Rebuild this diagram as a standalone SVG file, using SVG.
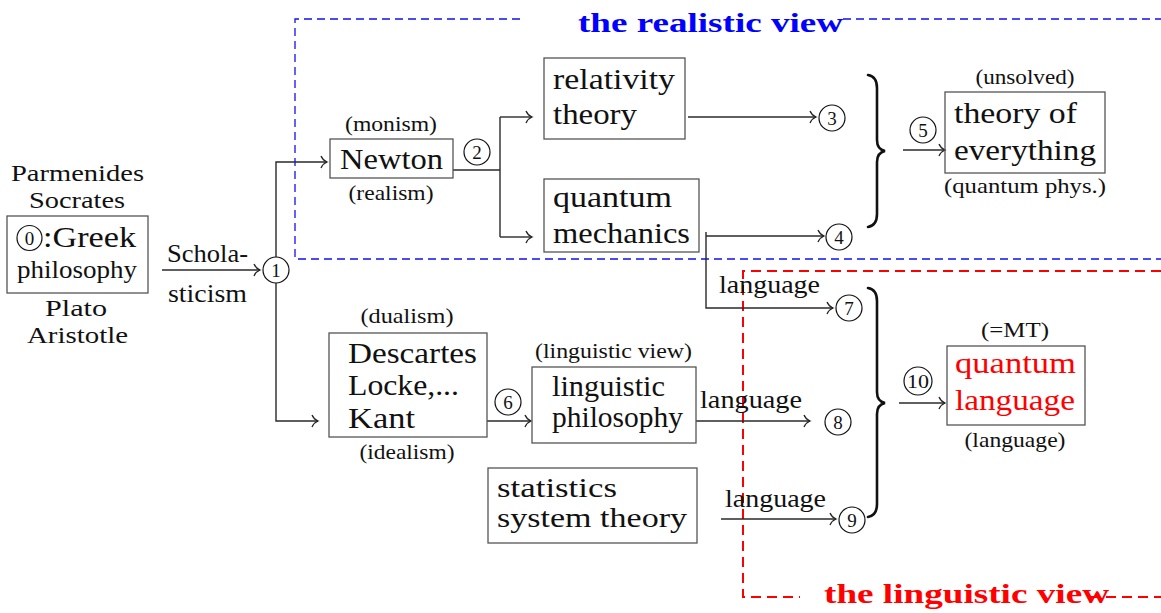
<svg xmlns="http://www.w3.org/2000/svg" width="1161" height="613" viewBox="0 0 1161 613" font-family="Liberation Serif, serif">
<style>
text{font-family:'Liberation Serif',serif;fill:#111}
.m{font-size:30px}
.n{font-size:25px}
.s{font-size:21px}
.c{font-size:19px;text-anchor:middle}
.box{fill:none;stroke:#555;stroke-width:1.3}
.circ{fill:#fff;stroke:#111;stroke-width:1.2}
.ln{fill:none;stroke:#2a2a2a;stroke-width:1.4}
.arr{marker-end:url(#to)}
.blue{fill:none;stroke:#1010ee;stroke-width:1.3;stroke-dasharray:8 5}
.red{fill:none;stroke:#ff0000;stroke-width:2;stroke-dasharray:10 6}
.brace{fill:none;stroke:#111;stroke-width:2.6;stroke-linecap:round}
.title{font-size:28px;font-weight:bold}
</style>
<defs>
<marker id="to" viewBox="-8 -8 10 16" refX="0" refY="0" markerWidth="10" markerHeight="16" markerUnits="userSpaceOnUse" orient="auto" overflow="visible">
<path d="M-6,-6 C-4.5,-2.5 -2,-0.8 0,0 C-2,0.8 -4.5,2.5 -6,6" fill="none" stroke="#222" stroke-width="1.3"/>
</marker>
</defs>
<rect width="1161" height="613" fill="#fff"/>

<g id="realistic-view">
<path class="blue" d="M520,19 H295 V259 H1161"/>
<path class="blue" d="M843,19 H1161"/>
<text class="title" x="578" y="32" textLength="265" lengthAdjust="spacingAndGlyphs" style="fill:#0000ff">the realistic view</text>
</g>

<g id="linguistic-view">
<path class="red" d="M1161,271 H743 V597 H800"/>
<text class="title" x="824" y="603" textLength="285" lengthAdjust="spacingAndGlyphs" style="fill:#ff0000">the linguistic view</text>
<path class="red" d="M1090,597 H1161"/>
</g>

<g id="connectors">
<path class="ln arr" d="M162,270 H260"/>
<path class="ln arr" d="M276,257 V162 H327"/>
<path class="ln arr" d="M276,283 V421 H318"/>
<path class="ln" d="M453,170 H500"/>
<path class="ln" d="M500,117 V237"/>
<path class="ln arr" d="M500,117 H532"/>
<path class="ln arr" d="M500,237 H532"/>
<path class="ln arr" d="M688,117 H816"/>
<path class="ln arr" d="M706,236 H824"/>
<path class="ln arr" d="M706,232 V308 H833"/>
<path class="ln arr" d="M487,421 H531"/>
<path class="ln arr" d="M696,421 H810"/>
<path class="ln arr" d="M721,519 H836"/>
<path class="ln arr" d="M903,150 H945"/>
<path class="ln arr" d="M899,403 H945"/>
<path class="brace" d="M868,75 C874,76 877,80 877,88 L877,140 C877,146 880,150 885,151 C880,152 877,156 877,162 L877,214 C877,222 874,226 868,227"/>
<path class="brace" d="M868,288 C874,289 877,293 877,301 L877,392 C877,398 880,402 885,403 C880,404 877,408 877,414 L877,504 C877,512 874,516 868,517"/>
<text class="n" x="167" y="262" textLength="81" lengthAdjust="spacingAndGlyphs">Schola-</text>
<text class="n" x="168" y="302" textLength="79" lengthAdjust="spacingAndGlyphs">sticism</text>
<text class="n" x="719" y="293" textLength="101" lengthAdjust="spacingAndGlyphs">language</text>
<text class="n" x="700" y="408" textLength="102" lengthAdjust="spacingAndGlyphs">language</text>
<text class="n" x="725" y="507" textLength="101" lengthAdjust="spacingAndGlyphs">language</text>
</g>

<g id="greek">
<text class="n" x="11" y="181" textLength="133" lengthAdjust="spacingAndGlyphs" style="font-size:23px">Parmenides</text>
<text class="n" x="29" y="208" textLength="96" lengthAdjust="spacingAndGlyphs" style="font-size:23px">Socrates</text>
<rect class="box" x="7" y="216" width="141" height="77"/>
<circle class="circ" cx="29.5" cy="238" r="12.5"/>
<text class="c" x="29.5" y="244.5">0</text>
<text class="m" x="43" y="247" textLength="93" lengthAdjust="spacingAndGlyphs">:Greek</text>
<text class="n" x="17" y="278" textLength="120" lengthAdjust="spacingAndGlyphs">philosophy</text>
<text class="n" x="45" y="316" textLength="62" lengthAdjust="spacingAndGlyphs" style="font-size:23px">Plato</text>
<text class="n" x="27" y="343" textLength="101" lengthAdjust="spacingAndGlyphs" style="font-size:23px">Aristotle</text>
</g>

<g id="n1"><circle class="circ" cx="276" cy="270" r="13"/><text class="c" x="276" y="276.5">1</text></g>

<g id="newton">
<text class="s" x="345" y="131" textLength="92" lengthAdjust="spacingAndGlyphs">(monism)</text>
<rect class="box" x="330" y="139" width="123" height="39"/>
<text class="m" x="340" y="169" textLength="103" lengthAdjust="spacingAndGlyphs">Newton</text>
<text class="s" x="348.5" y="200" textLength="85" lengthAdjust="spacingAndGlyphs">(realism)</text>
</g>
<g id="n2"><circle class="circ" cx="477" cy="152" r="13"/><text class="c" x="477" y="158.5">2</text></g>

<g id="relativity">
<rect class="box" x="544" y="58" width="141" height="81"/>
<text class="m" x="553" y="89" textLength="122" lengthAdjust="spacingAndGlyphs">relativity</text>
<text class="m" x="553" y="124" textLength="84" lengthAdjust="spacingAndGlyphs">theory</text>
</g>
<g id="qm">
<rect class="box" x="544" y="179" width="155" height="73"/>
<text class="m" x="553" y="207" textLength="119" lengthAdjust="spacingAndGlyphs">quantum</text>
<text class="m" x="553" y="243" textLength="137" lengthAdjust="spacingAndGlyphs">mechanics</text>
</g>
<g id="n3"><circle class="circ" cx="832" cy="118" r="13"/><text class="c" x="832" y="124.5">3</text></g>
<g id="n4"><circle class="circ" cx="839" cy="237" r="13"/><text class="c" x="839" y="243.5">4</text></g>
<g id="n5"><circle class="circ" cx="923" cy="130" r="13"/><text class="c" x="923" y="136.5">5</text></g>

<g id="toe">
<text class="s" x="975.5" y="84" textLength="99" lengthAdjust="spacingAndGlyphs">(unsolved)</text>
<rect class="box" x="945" y="92" width="160" height="81"/>
<text class="m" x="954" y="123" textLength="123" lengthAdjust="spacingAndGlyphs">theory of</text>
<text class="m" x="954" y="160" textLength="142" lengthAdjust="spacingAndGlyphs">everything</text>
<text class="s" x="944" y="193" textLength="162" lengthAdjust="spacingAndGlyphs">(quantum phys.)</text>
</g>

<g id="descartes">
<text class="s" x="360.5" y="323" textLength="93" lengthAdjust="spacingAndGlyphs">(dualism)</text>
<rect class="box" x="329" y="333" width="158" height="104"/>
<text class="m" x="348" y="363" textLength="129" lengthAdjust="spacingAndGlyphs">Descartes</text>
<text class="m" x="348" y="395" textLength="111" lengthAdjust="spacingAndGlyphs">Locke,...</text>
<text class="m" x="348" y="428" textLength="67" lengthAdjust="spacingAndGlyphs">Kant</text>
<text class="s" x="359.5" y="459" textLength="95" lengthAdjust="spacingAndGlyphs">(idealism)</text>
</g>
<g id="n6"><circle class="circ" cx="508" cy="402" r="13"/><text class="c" x="508" y="408.5">6</text></g>

<g id="lingphil">
<text class="s" x="535" y="358" textLength="157" lengthAdjust="spacingAndGlyphs">(linguistic view)</text>
<rect class="box" x="532" y="367" width="164" height="76"/>
<text class="m" x="552" y="396" textLength="113" lengthAdjust="spacingAndGlyphs">linguistic</text>
<text class="m" x="552" y="427" textLength="131" lengthAdjust="spacingAndGlyphs">philosophy</text>
</g>

<g id="stats">
<rect class="box" x="488" y="468" width="209" height="75"/>
<text class="m" x="497" y="497" textLength="120" lengthAdjust="spacingAndGlyphs" style="font-size:27px">statistics</text>
<text class="m" x="497" y="527" textLength="190" lengthAdjust="spacingAndGlyphs" style="font-size:27px">system theory</text>
</g>

<g id="n7"><circle class="circ" cx="849" cy="308" r="13"/><text class="c" x="849" y="314.5">7</text></g>
<g id="n8"><circle class="circ" cx="838" cy="422" r="13"/><text class="c" x="838" y="428.5">8</text></g>
<g id="n9"><circle class="circ" cx="852" cy="520" r="13"/><text class="c" x="852" y="526.5">9</text></g>
<g id="n10"><circle class="circ" cx="918" cy="381" r="14"/><text class="c" x="918" y="387.5" textLength="22" lengthAdjust="spacingAndGlyphs">10</text></g>

<g id="qlang">
<text class="s" x="981" y="337" textLength="68" lengthAdjust="spacingAndGlyphs">(=MT)</text>
<rect class="box" x="947" y="346" width="138" height="79"/>
<text class="m" x="955" y="373" textLength="121" lengthAdjust="spacingAndGlyphs" style="fill:#ff0000">quantum</text>
<text class="m" x="955" y="410" textLength="120" lengthAdjust="spacingAndGlyphs" style="fill:#ff0000">language</text>
<text class="s" x="964.5" y="447" textLength="101" lengthAdjust="spacingAndGlyphs">(language)</text>
</g>
</svg>
